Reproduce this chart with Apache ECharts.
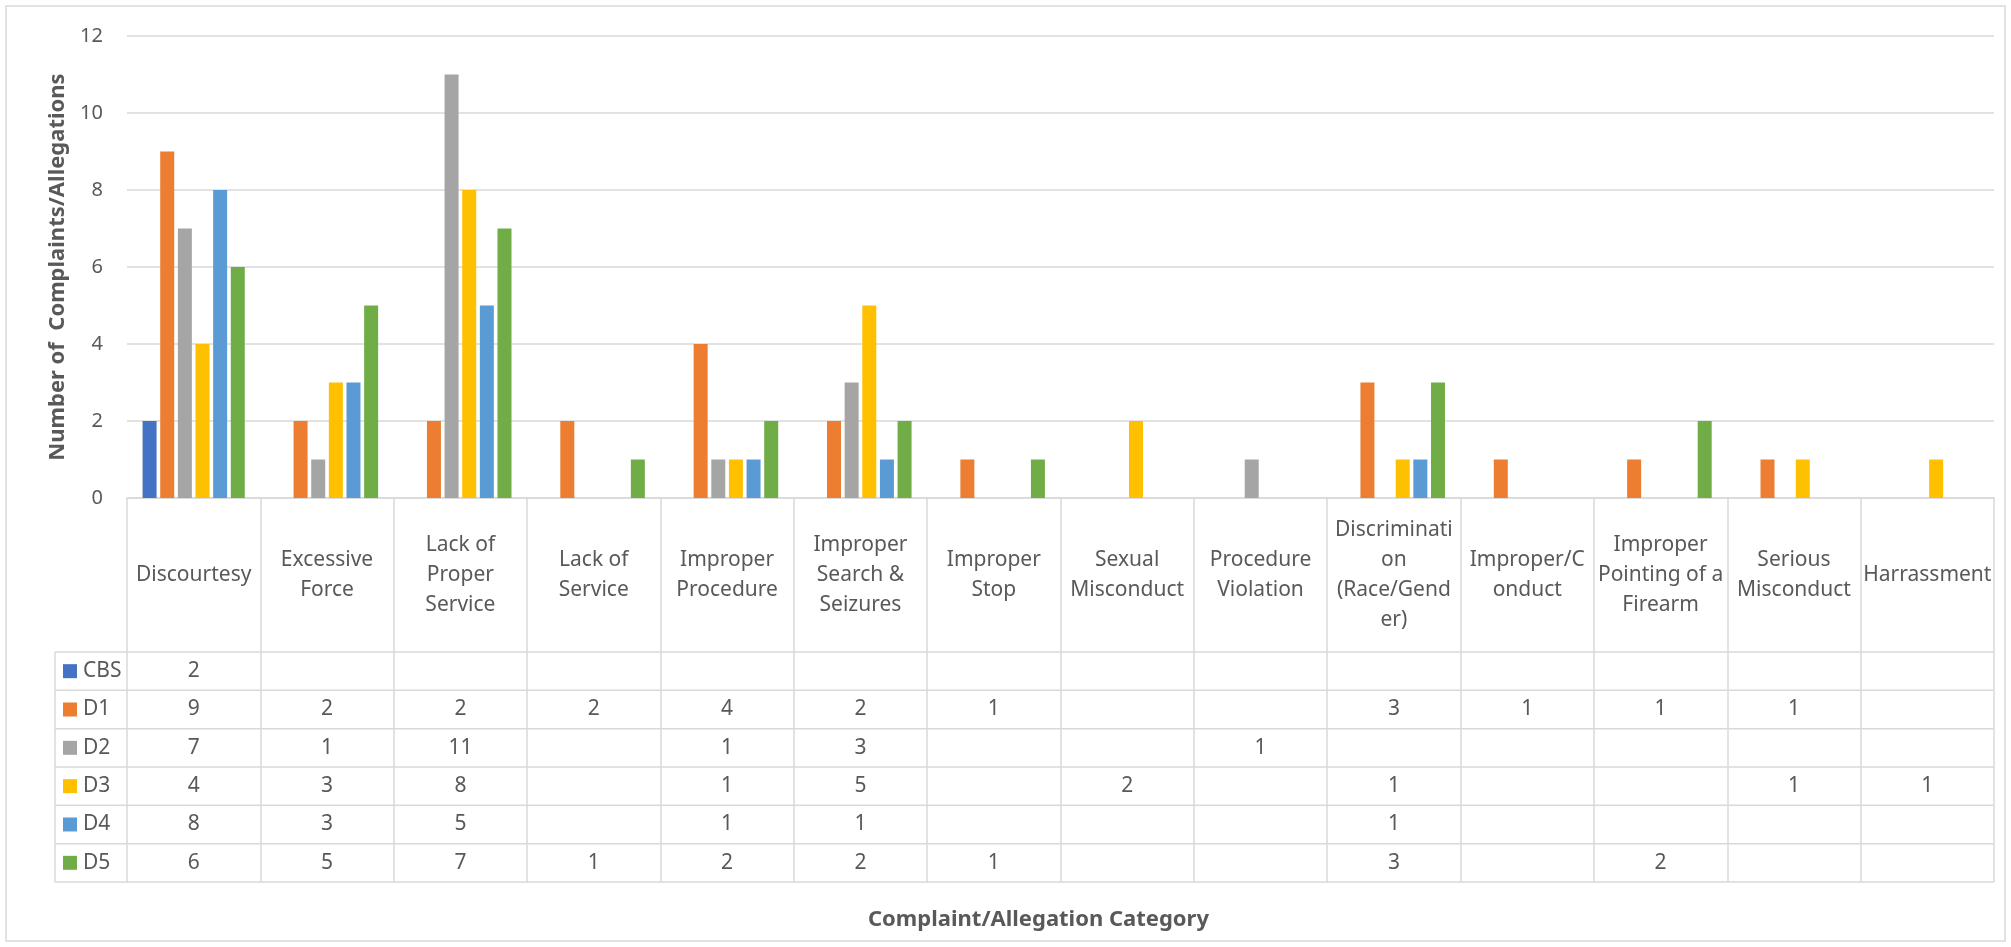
<!DOCTYPE html>
<html>
<head>
<meta charset="utf-8">
<script src="https://cdn.jsdelivr.net/npm/echarts@6/dist/echarts.min.js"></script>
<style>
html, body { margin: 0; padding: 0; background: #fff; }
#chart { width: 2011px; height: 947px; }
</style>
</head>
<body>
<div id="chart"></div>
<script>
var categories = ['Discourtesy', 'Excessive Force', 'Lack of Proper Service', 'Lack of Service',
    'Improper Procedure', 'Improper Search & Seizures', 'Improper Stop', 'Sexual Misconduct',
    'Procedure Violation', 'Discrimination (Race/Gender)', 'Improper/Conduct',
    'Improper Pointing of a Firearm', 'Serious Misconduct', 'Harrassment']
// wrapped the way the data table shows them
var tickLabels = ['Discourtesy', 'Excessive\nForce', 'Lack of\nProper\nService', 'Lack of\nService',
    'Improper\nProcedure', 'Improper\nSearch &\nSeizures', 'Improper\nStop', 'Sexual\nMisconduct',
    'Procedure\nViolation', 'Discriminati\non\n(Race/Gend\ner)', 'Improper/C\nonduct',
    'Improper\nPointing of a\nFirearm', 'Serious\nMisconduct', 'Harrassment']
var seriesNames = ['CBS', 'D1', 'D2', 'D3', 'D4', 'D5']
var CBS = [2, null, null, null, null, null, null, null, null, null, null, null, null, null]
var D1 = [9, 2, 2, 2, 4, 2, 1, null, null, 3, 1, 1, 1, null]
var D2 = [7, 1, 11, null, 1, 3, null, null, 1, null, null, null, null, null]
var D3 = [4, 3, 8, null, 1, 5, null, 2, null, 1, null, null, 1, 1]
var D4 = [8, 3, 5, null, 1, 1, null, null, null, 1, null, null, null, null]
var D5 = [6, 5, 7, 1, 2, 2, 1, null, null, 3, null, 2, null, null]
var seriesData = [CBS, D1, D2, D3, D4, D5]
var colors = ['#4472C4', '#ED7D31', '#A5A5A5', '#FFC000', '#5B9BD5', '#70AD47']

var font = 'Noto Sans'
var textColor = '#595959'
var lineColor = '#d9d9d9'

// layout
var gridLeft = 127, gridRight = 1994, gridTop = 36, axisY = 498
var rowTop = 652, rowH = 38.33, legendLeft = 55

let chart = echarts.init(document.getElementById('chart'));

var series = seriesNames.map(function (name, i) {
    return {
        name: name,
        type: 'bar',
        data: seriesData[i],
        barWidth: 14,
        barGap: '26%',
        itemStyle: { color: colors[i] }
    }
})

var option = {
    animation: false,
    grid: {
        left: gridLeft,
        right: 2011 - gridRight,
        top: gridTop,
        bottom: 947 - axisY,
        containLabel: false
    },
    xAxis: {
        type: 'category',
        data: tickLabels,
        axisLine: { lineStyle: { color: lineColor, width: 1.5 } },
        axisTick: {
            show: true,
            length: rowTop + rowH * 6 - axisY,
            lineStyle: { color: lineColor, width: 1.5 }
        },
        axisLabel: {
            interval: 0,
            margin: 77,
            verticalAlign: 'middle',
            fontFamily: font,
            fontSize: 21,
            lineHeight: 30,
            color: textColor
        },
        name: 'Complaint/Allegation Category',
        nameLocation: 'middle',
        nameGap: 411,
        nameTextStyle: {
            fontFamily: font,
            fontSize: 22,
            fontWeight: 'bold',
            color: textColor,
            padding: [0, 44, 0, 0]
        }
    },
    yAxis: {
        type: 'value',
        min: 0,
        max: 12,
        interval: 2,
        axisLine: { show: false },
        axisTick: { show: false },
        splitLine: { lineStyle: { color: lineColor, width: 1.5 } },
        axisLabel: {
            margin: 24,
            fontFamily: font,
            fontSize: 20,
            color: textColor
        },
        name: 'Number of  Complaints/Allegations',
        nameLocation: 'middle',
        nameGap: 58,
        nameTextStyle: {
            fontFamily: font,
            fontSize: 22,
            fontWeight: 'bold',
            color: textColor,
            padding: [0, 0, 0, 0]
        }
    },
    series: series
};

chart.setOption(option);

// data table below the axis
var graphics = []
graphics.push({
    type: 'rect',
    shape: { x: 6, y: 6, width: 1999, height: 935 },
    style: { fill: 'none', stroke: lineColor, lineWidth: 1.5 },
    silent: true
})
for (var r = 0; r <= seriesNames.length; r++) {
    var y = rowTop + r * rowH
    graphics.push({
        type: 'line',
        shape: { x1: legendLeft, y1: y, x2: gridRight, y2: y },
        style: { stroke: lineColor, lineWidth: 1.5 },
        silent: true
    })
}
graphics.push({
    type: 'line',
    shape: { x1: legendLeft, y1: rowTop, x2: legendLeft, y2: rowTop + rowH * seriesNames.length },
    style: { stroke: lineColor, lineWidth: 1.5 },
    silent: true
})
seriesNames.forEach(function (name, r) {
    var cy = rowTop + r * rowH + rowH / 2
    graphics.push({
        type: 'rect',
        shape: { x: 63, y: cy - 7, width: 14, height: 14 },
        style: { fill: colors[r] },
        silent: true
    })
    graphics.push({
        type: 'text',
        x: 83, y: cy,
        style: {
            text: name, fontFamily: font, fontSize: 21, fill: textColor,
            verticalAlign: 'middle', align: 'left'
        },
        silent: true
    })
    seriesData[r].forEach(function (v, c) {
        if (v == null) return
        var cx = chart.convertToPixel({ xAxisIndex: 0 }, c)
        graphics.push({
            type: 'text',
            x: cx, y: cy,
            style: {
                text: String(v), fontFamily: font, fontSize: 21, fill: textColor,
                verticalAlign: 'middle', align: 'center'
            },
            silent: true
        })
    })
})
chart.setOption({ graphic: graphics });
</script>
</body>
</html>
